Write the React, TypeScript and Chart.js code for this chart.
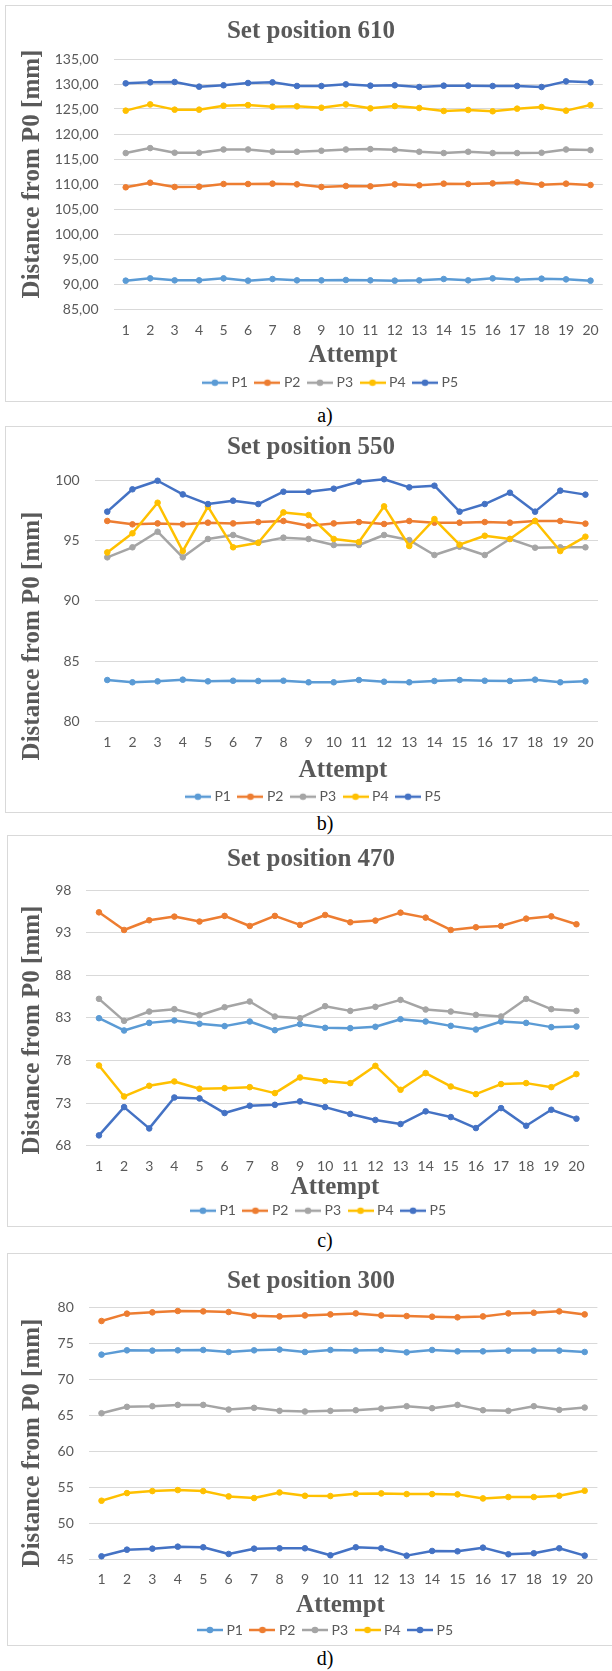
import React, { useEffect, useRef } from 'react';
import { Chart, registerables } from 'chart.js';

Chart.register(...registerables);

// ---------------- data ----------------
const ATTEMPTS = ['1', '2', '3', '4', '5', '6', '7', '8', '9', '10', '11', '12', '13', '14', '15', '16', '17', '18', '19', '20'];
const SERIES_NAMES = ['P1', 'P2', 'P3', 'P4', 'P5'];
const COLORS = ['#5B9BD5', '#ED7D31', '#A5A5A5', '#FFC000', '#4472C4'];

// Set position 610
const P1_610 = [90.67, 91.13, 90.73, 90.73, 91.13, 90.67, 91.0, 90.73, 90.73, 90.8, 90.73, 90.67, 90.73, 91.0, 90.73, 91.13, 90.87, 91.07, 90.93, 90.67];
const P2_610 = [109.34, 110.26, 109.41, 109.47, 110.0, 110.0, 110.07, 109.93, 109.41, 109.6, 109.54, 109.93, 109.74, 110.07, 110.0, 110.13, 110.33, 109.87, 110.07, 109.8];
const P3_610 = [116.19, 117.18, 116.25, 116.25, 116.91, 116.91, 116.45, 116.45, 116.65, 116.91, 116.98, 116.85, 116.45, 116.19, 116.45, 116.19, 116.19, 116.25, 116.91, 116.78];
const P4_610 = [124.67, 125.92, 124.87, 124.87, 125.66, 125.79, 125.46, 125.53, 125.26, 125.92, 125.13, 125.59, 125.2, 124.6, 124.8, 124.54, 125.07, 125.4, 124.67, 125.79];
const P5_610 = [130.13, 130.33, 130.4, 129.47, 129.74, 130.2, 130.33, 129.6, 129.6, 129.93, 129.67, 129.74, 129.4, 129.67, 129.67, 129.6, 129.6, 129.4, 130.53, 130.33];

// Set position 550
const P1_550 = [83.45, 83.26, 83.34, 83.48, 83.34, 83.39, 83.37, 83.39, 83.26, 83.26, 83.45, 83.31, 83.26, 83.37, 83.45, 83.39, 83.37, 83.48, 83.26, 83.34];
const P2_550 = [96.61, 96.33, 96.41, 96.33, 96.47, 96.41, 96.52, 96.61, 96.22, 96.41, 96.52, 96.36, 96.61, 96.47, 96.47, 96.52, 96.47, 96.61, 96.61, 96.39];
const P3_550 = [93.6, 94.43, 95.72, 93.6, 95.12, 95.45, 94.81, 95.23, 95.12, 94.62, 94.62, 95.45, 95.03, 93.79, 94.48, 93.79, 95.12, 94.4, 94.43, 94.43];
const P4_550 = [94.01, 95.59, 98.12, 94.12, 97.79, 94.43, 94.81, 97.32, 97.1, 95.12, 94.87, 97.82, 94.54, 96.77, 94.65, 95.39, 95.12, 96.61, 94.12, 95.31];
const P5_550 = [97.38, 99.23, 99.94, 98.81, 98.01, 98.29, 98.01, 99.03, 99.03, 99.28, 99.86, 100.06, 99.39, 99.53, 97.38, 98.01, 98.95, 97.38, 99.12, 98.79];

// Set position 470
const P1_470 = [82.96, 81.52, 82.41, 82.69, 82.3, 82.03, 82.57, 81.55, 82.26, 81.83, 81.79, 81.95, 82.84, 82.57, 82.06, 81.63, 82.57, 82.41, 81.91, 81.98];
const P2_470 = [95.38, 93.31, 94.45, 94.88, 94.3, 94.96, 93.78, 94.96, 93.9, 95.07, 94.21, 94.41, 95.34, 94.76, 93.31, 93.63, 93.78, 94.64, 94.91, 93.98];
const P3_470 = [85.23, 82.65, 83.74, 84.02, 83.31, 84.25, 84.92, 83.16, 82.96, 84.37, 83.82, 84.29, 85.11, 83.98, 83.74, 83.35, 83.16, 85.23, 84.02, 83.82];
const P4_470 = [77.41, 73.78, 75.03, 75.54, 74.68, 74.75, 74.87, 74.17, 76.01, 75.58, 75.34, 77.37, 74.56, 76.52, 74.95, 74.05, 75.23, 75.34, 74.87, 76.4];
const P5_470 = [69.21, 72.53, 70.03, 73.66, 73.55, 71.83, 72.69, 72.8, 73.2, 72.53, 71.72, 71.02, 70.54, 72.03, 71.36, 70.07, 72.41, 70.34, 72.22, 71.17];

// Set position 300
const P1_300 = [73.47, 74.07, 74.03, 74.07, 74.12, 73.84, 74.07, 74.17, 73.84, 74.12, 74.03, 74.12, 73.79, 74.12, 73.93, 73.93, 74.03, 74.03, 74.03, 73.84];
const P2_300 = [78.15, 79.17, 79.35, 79.54, 79.49, 79.4, 78.89, 78.79, 78.93, 79.07, 79.21, 78.93, 78.84, 78.75, 78.66, 78.79, 79.21, 79.3, 79.49, 79.07];
const P3_300 = [65.32, 66.21, 66.3, 66.48, 66.48, 65.83, 66.07, 65.65, 65.56, 65.65, 65.74, 65.97, 66.3, 66.02, 66.48, 65.74, 65.65, 66.3, 65.79, 66.11];
const P4_300 = [53.15, 54.21, 54.49, 54.63, 54.49, 53.75, 53.52, 54.3, 53.84, 53.8, 54.12, 54.17, 54.07, 54.07, 54.03, 53.47, 53.66, 53.66, 53.84, 54.54];
const P5_300 = [45.42, 46.34, 46.48, 46.76, 46.67, 45.74, 46.48, 46.53, 46.53, 45.56, 46.67, 46.53, 45.51, 46.16, 46.11, 46.62, 45.7, 45.84, 46.53, 45.51];

// y axis ranges [min, max, step]
const Y_RANGE_610 = [85, 135, 5];
const Y_RANGE_550 = [80, 100, 5];
const Y_RANGE_470 = [68, 98, 5];
const Y_RANGE_300 = [45, 80, 5];

const TITLES = ['Set position 610', 'Set position 550', 'Set position 470', 'Set position 300'];
const CAPTIONS = ['a)', 'b)', 'c)', 'd)'];
const Y_TITLE = 'Distance from P0 [mm]';
const X_TITLE = 'Attempt';

// ---------------- layout (absolute page px) ----------------
const LAYOUTS = [
  { box: [5, 5, 401], plot: [113.5, 605.3, 59, 309], title: [311, 38.2], yTitle: [39.4, 174], xTitle: [353, 362.4], legend: [330, 382.7], tickPad: 13.2, caption: 416.5, decimals: 2 },
  { box: [5, 426, 812], plot: [94.7, 598, 480, 721.7], title: [311, 453.7], yTitle: [39.4, 636], xTitle: [343, 776.5], legend: [313, 796.7], tickPad: 12.5, caption: 824.5, decimals: 0 },
  { box: [7, 835, 1226], plot: [86.4, 589, 890, 1145.7], title: [311, 865.7], yTitle: [39.4, 1030], xTitle: [335, 1193.7], legend: [318, 1210.7], tickPad: 12.2, caption: 1241.7, decimals: 0 },
  { box: [7, 1253, 1645], plot: [88.8, 597.4, 1307.7, 1559.3], title: [311, 1287.7], yTitle: [39.4, 1443], xTitle: [340.5, 1612.4], legend: [325, 1630], tickPad: 11.9, caption: 1660, decimals: 0 },
];

const CHART_SERIES = [
  [P1_610, P2_610, P3_610, P4_610, P5_610],
  [P1_550, P2_550, P3_550, P4_550, P5_550],
  [P1_470, P2_470, P3_470, P4_470, P5_470],
  [P1_300, P2_300, P3_300, P4_300, P5_300],
];
const CHART_RANGES = [Y_RANGE_610, Y_RANGE_550, Y_RANGE_470, Y_RANGE_300];

const PAGE_W = 612;
const TEXT_GRAY = '#595959';
const GRID = '#d9d9d9';
const TICK_FONT = { family: 'Lato', size: 14 };
const LEGEND_PAD = 10;

function makeIcon(color: string): HTMLCanvasElement {
  const c = document.createElement('canvas');
  c.width = 26;
  c.height = 10;
  const g = c.getContext('2d')!;
  g.strokeStyle = color;
  g.lineWidth = 2.5;
  g.beginPath();
  g.moveTo(0, 5);
  g.lineTo(26, 5);
  g.stroke();
  g.fillStyle = color;
  g.beginPath();
  g.arc(13, 5, 3.3, 0, Math.PI * 2);
  g.fill();
  return c;
}

const decorPlugin = {
  id: 'decor',
  afterLayout(chart: any, _args: any, opts: any) {
    const lg = chart.legend;
    if (lg && opts.legendX != null) {
      const dx = opts.legendX - (lg.left + lg.right) / 2 + 1.75;
      const dy = opts.legendY - (lg.top + LEGEND_PAD + TICK_FONT.size / 2);
      lg.left += dx;
      lg.right += dx;
      lg.top += dy;
      lg.bottom += dy;
    }
  },
  afterDraw(chart: any, _args: any, opts: any) {
    const ctx = chart.ctx;
    ctx.save();
    ctx.fillStyle = TEXT_GRAY;
    ctx.font = 'bold 25px "Liberation Serif"';
    ctx.textAlign = 'center';
    ctx.textBaseline = 'alphabetic';
    ctx.fillText(opts.titleText, opts.titleX, opts.titleY);
    ctx.fillText(opts.xTitleText, opts.xTitleX, opts.xTitleY);
    ctx.translate(opts.yTitleX, opts.yTitleY);
    ctx.rotate(-Math.PI / 2);
    ctx.fillText(opts.yTitleText, 0, 0);
    ctx.restore();
  },
};

function Panel({ index }: { index: number }) {
  const ref = useRef<HTMLCanvasElement>(null);
  const L = LAYOUTS[index];
  const [bLeft, bTop, bBottom] = L.box;
  const cLeft = bLeft + 1;
  const cTop = bTop + 1;
  const W = PAGE_W - cLeft;
  const H = bBottom - bTop - 1;

  useEffect(() => {
    const canvas = ref.current!;
    const icons = COLORS.map(makeIcon);
    const series = CHART_SERIES[index];
    const [yMin, yMax, yStep] = CHART_RANGES[index];
    const [pL, pR, pT, pB] = L.plot;
    const plotLeft = pL - cLeft;
    const plotRight = pR - cLeft;
    const plotTop = pT - cTop;
    const plotBottom = pB - cTop;
    const decimals = L.decimals;

    const chart = new Chart(canvas, {
      type: 'line',
      data: {
        labels: ATTEMPTS,
        datasets: series.map((d, i) => ({
          label: SERIES_NAMES[i],
          data: d,
          borderColor: COLORS[i],
          backgroundColor: COLORS[i],
          pointBackgroundColor: COLORS[i],
          pointBorderColor: COLORS[i],
          borderWidth: 2.5,
          pointRadius: 2.8,
          pointBorderWidth: 1,
          pointHoverRadius: 2.8,
          tension: 0,
          borderJoinStyle: 'round',
          borderCapStyle: 'round',
          clip: false,
          order: -i,
        })),
      },
      options: {
        animation: false,
        responsive: false,
        maintainAspectRatio: false,
        devicePixelRatio: 1,
        events: [],
        layout: { padding: { top: plotTop, right: W - plotRight, left: 0, bottom: 0 } },
        scales: {
          x: {
            type: 'category',
            offset: true,
            grid: { display: false, drawTicks: false },
            border: { display: false },
            ticks: { font: TICK_FONT, color: TEXT_GRAY, padding: L.tickPad, autoSkip: false, maxRotation: 0, minRotation: 0 },
            afterFit: (scale: any) => {
              const lh = scale.chart.legend ? scale.chart.legend.height : 0;
              scale.height = H - lh - plotBottom;
            },
          },
          y: {
            type: 'linear',
            min: yMin,
            max: yMax,
            grid: { color: GRID, lineWidth: 1, drawTicks: false },
            border: { display: false },
            ticks: {
              stepSize: yStep,
              font: TICK_FONT,
              color: TEXT_GRAY,
              padding: 15,
              callback: (v: any) => Number(v).toFixed(decimals).replace('.', ','),
            },
            afterFit: (scale: any) => {
              scale.width = plotLeft;
            },
          },
        },
        plugins: {
          title: { display: false },
          tooltip: { enabled: false },
          legend: {
            display: true,
            position: 'bottom',
            labels: {
              usePointStyle: true,
              pointStyleWidth: 19,
              padding: LEGEND_PAD,
              color: TEXT_GRAY,
              font: TICK_FONT,
              generateLabels: (ch: any) => {
                const items = (Chart.defaults.plugins.legend.labels as any).generateLabels(ch);
                return items
                  .sort((a: any, b: any) => a.datasetIndex - b.datasetIndex)
                  .map((it: any) => ({ ...it, pointStyle: icons[it.datasetIndex], fontColor: TEXT_GRAY }));
              },
            },
          },
          decor: {
            titleText: TITLES[index],
            titleX: L.title[0] - cLeft,
            titleY: L.title[1] - cTop,
            xTitleText: X_TITLE,
            xTitleX: L.xTitle[0] - cLeft,
            xTitleY: L.xTitle[1] - cTop,
            yTitleText: Y_TITLE,
            yTitleX: L.yTitle[0] - cLeft,
            yTitleY: L.yTitle[1] - cTop,
            legendX: L.legend[0] - cLeft,
            legendY: L.legend[1] - cTop,
          },
        } as any,
      },
      plugins: [decorPlugin as any],
    } as any);
    return () => chart.destroy();
  }, []);

  return (
    <>
      <div
        style={{
          position: 'absolute',
          left: bLeft,
          top: bTop,
          width: 660,
          height: bBottom - bTop + 1,
          border: '1px solid ' + GRID,
          boxSizing: 'border-box',
          background: '#fff',
        }}
      />
      <canvas
        ref={ref}
        width={W}
        height={H}
        style={{ position: 'absolute', left: cLeft, top: cTop, width: W, height: H, display: 'block' }}
      />
      <div
        style={{
          position: 'absolute',
          left: 225,
          width: 200,
          top: L.caption - 12,
          textAlign: 'center',
          fontFamily: '"Liberation Serif", serif',
          fontSize: 20,
          lineHeight: '20px',
          color: '#000',
        }}
      >
        {CAPTIONS[index]}
      </div>
    </>
  );
}

export default function App() {
  return (
    <div
      style={{
        position: 'absolute',
        left: 0,
        top: 0,
        width: PAGE_W,
        height: 1671,
        overflow: 'hidden',
        background: '#fff',
      }}
    >
      {LAYOUTS.map((_, i) => (
        <Panel key={i} index={i} />
      ))}
    </div>
  );
}
